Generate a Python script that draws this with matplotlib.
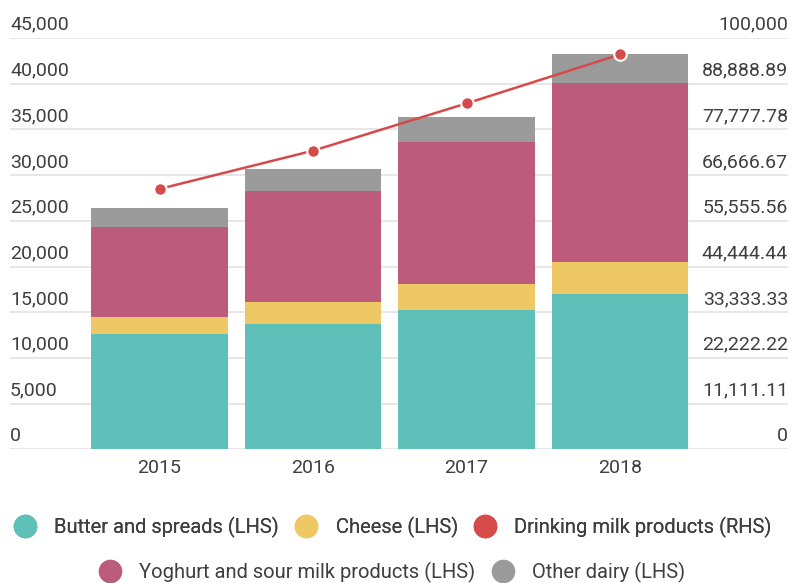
import numpy as np
import matplotlib.pyplot as plt
from matplotlib.lines import Line2D

plt.rcParams['font.family'] = ['Roboto', 'DejaVu Sans']

years = ['2015', '2016', '2017', '2018']
butter = [12600, 13700, 15250, 16950]
cheese = [1850, 2450, 2820, 3570]
yoghurt = [9850, 12150, 15500, 19550]
other = [2100, 2380, 2740, 3180]
drinking_milk = [63300, 72600, 84100, 96000]

left_ticks = np.arange(0, 45001, 5000)
right_ticks = np.linspace(0, 100000, 10)

c_butter = '#5fbfb9'
c_cheese = '#eec864'
c_yoghurt = '#bc5b7b'
c_other = '#9b9b9b'
c_milk = '#d64a4a'
txt = '#3f3f3f'
grid = '#e3e3e3'
fs = 14

fig = plt.figure(figsize=(7.92, 5.83), dpi=100)
ax = fig.add_axes([10 / 792, 1 - 449.3 / 583, 778 / 792, (449.3 - 38) / 583])

x = np.arange(len(years))
w = 0.89
bottom = np.zeros(len(years))
for vals, col in [(butter, c_butter), (cheese, c_cheese),
                  (yoghurt, c_yoghurt), (other, c_other)]:
    ax.bar(x, vals, w, bottom=bottom, color=col, zorder=2)
    bottom += np.array(vals)

ax.set_xlim(-0.974, 4.094)
ax.set_ylim(0, 45000)
for s in ax.spines.values():
    s.set_visible(False)
ax.set_yticks(left_ticks)
ax.yaxis.grid(True, color=grid, lw=1.2, zorder=0)
ax.set_axisbelow(True)
ax.tick_params(axis='y', length=0, labelleft=False)
ax.set_xticks(x)
ax.set_xticklabels(years, fontsize=fs, color=txt)
ax.tick_params(axis='x', length=0, pad=7)

for v in left_ticks:
    ax.annotate(f'{v:,.0f}', xy=(0, v), xycoords=('axes fraction', 'data'),
                xytext=(0, 3), textcoords='offset points',
                ha='left', va='bottom', fontsize=fs, color=txt)

ax2 = ax.twinx()
ax2.set_ylim(0, 100000)
for s in ax2.spines.values():
    s.set_visible(False)
ax2.set_yticks([])
for v in right_ticks:
    lab = f'{v:,.0f}' if abs(v - round(v)) < 1e-6 else f'{v:,.2f}'
    ax2.annotate(lab, xy=(1, v), xycoords=('axes fraction', 'data'),
                 xytext=(0, 3), textcoords='offset points',
                 ha='right', va='bottom', fontsize=fs, color=txt)

ax2.plot(x, drinking_milk, color=c_milk, lw=1.8, marker='o', ms=9,
         mfc=c_milk, mec='white', mew=1.5, zorder=5)

def dot(c):
    return Line2D([], [], ls='', marker='o', ms=16, mfc=c, mec=c)

leg_kw = dict(loc='center', frameon=False, fontsize=14.5, handletextpad=0.9,
              columnspacing=0.8, handlelength=1.1, labelcolor=txt)
leg1 = fig.legend([dot(c_butter), dot(c_cheese), dot(c_milk)],
                  ['Butter and spreads (LHS)', 'Cheese (LHS)',
                   'Drinking milk products (RHS)'],
                  bbox_to_anchor=(0.496, 1 - 527 / 583), ncol=3, **leg_kw)
fig.add_artist(leg1)
fig.legend([dot(c_yoghurt), dot(c_other)],
           ['Yoghurt and sour milk products (LHS)', 'Other dairy (LHS)'],
           bbox_to_anchor=(0.495, 1 - 572 / 583), ncol=2, **leg_kw)

fig.savefig('out.png', dpi=100)
